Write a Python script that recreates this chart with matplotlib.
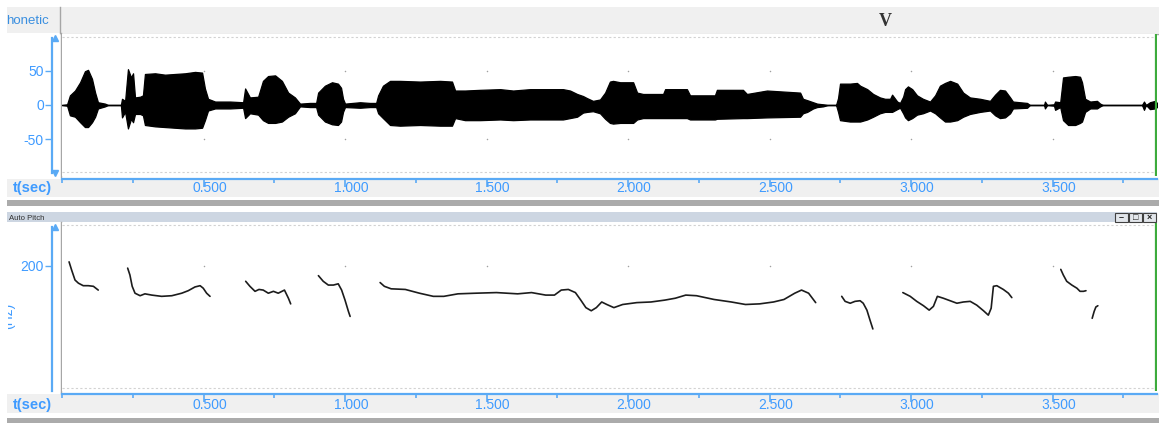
import numpy as np
import matplotlib
matplotlib.use("Agg")
import matplotlib.pyplot as plt
from matplotlib import transforms
from matplotlib.lines import Line2D
from matplotlib.patches import Rectangle

plt.rcParams["font.family"] = ["Liberation Sans", "DejaVu Sans"]
plt.rcParams["axes.unicode_minus"] = False

# ---- waveform envelope (seconds, upper / lower amplitude) ----
WAVE_T = [0.000, 0.018, 0.028, 0.046, 0.064, 0.081, 0.092, 0.106, 0.117, 0.127,
          0.152, 0.163, 0.208, 0.212, 0.223, 0.233, 0.244, 0.251, 0.258, 0.276,
          0.286, 0.293, 0.329, 0.364, 0.399, 0.435, 0.470, 0.495, 0.505, 0.516,
          0.541, 0.594, 0.640, 0.647, 0.664, 0.693, 0.710, 0.728, 0.753, 0.777,
          0.799, 0.823, 0.841, 0.876, 0.898, 0.905, 0.929, 0.954, 0.975, 0.986,
          0.993, 1.000, 1.053, 1.088, 1.110, 1.117, 1.134, 1.159, 1.194, 1.265,
          1.336, 1.378, 1.389, 1.424, 1.477, 1.548, 1.594, 1.654, 1.714, 1.770,
          1.795, 1.820, 1.841, 1.855, 1.876, 1.901, 1.919, 1.936, 1.947, 1.972,
          2.018, 2.032, 2.053, 2.124, 2.131, 2.208, 2.219, 2.307, 2.314, 2.406,
          2.420, 2.491, 2.608, 2.618, 2.633, 2.654, 2.668, 2.689, 2.707, 2.735,
          2.742, 2.749, 2.784, 2.809, 2.820, 2.845, 2.866, 2.890, 2.908, 2.926,
          2.933, 2.951, 2.961, 2.972, 2.979, 2.989, 3.004, 3.021, 3.042, 3.067,
          3.085, 3.102, 3.120, 3.138, 3.163, 3.184, 3.208, 3.244, 3.279, 3.297,
          3.314, 3.332, 3.350, 3.360, 3.410, 3.420, 3.470, 3.473, 3.481, 3.505,
          3.509, 3.527, 3.537, 3.555, 3.580, 3.597, 3.604, 3.615, 3.633, 3.657,
          3.668, 3.678, 3.816, 3.823, 3.830, 3.844, 3.862, 3.869]
WAVE_UP = [0, 1, 14, 21, 33, 49, 51, 38, 18, 4,
           2, 0, 0, 9, 6, 52, 40, 46, 11, 12,
           14, 45, 46, 44, 45, 46, 48, 47, 24, 9,
           5, 5, 4, 24, 11, 12, 35, 42, 43, 35,
           18, 11, 2, 3, 3, 18, 28, 33, 31, 25,
           9, 2, 4, 3, 3, 14, 28, 35, 35, 34,
           35, 34, 21, 21, 22, 23, 21, 23, 23, 23,
           21, 16, 13, 10, 6, 8, 18, 34, 35, 33,
           33, 18, 16, 16, 23, 23, 14, 14, 22, 22,
           16, 21, 18, 9, 7, 4, 2, 1, 0, 0,
           10, 31, 31, 32, 28, 23, 16, 11, 9, 9,
           15, 5, 3, 12, 23, 27, 23, 14, 9, 5,
           14, 28, 32, 35, 31, 18, 11, 9, 6, 15,
           22, 21, 11, 5, 3, 0, 0, 5, 0, 1,
           5, 4, 40, 41, 42, 41, 33, 9, 5, 6,
           2, 0, 0, 5, 0, 4, 6, 3]
WAVE_LO = [0, -1, -15, -17, -25, -32, -32, -25, -17, -5,
           -2, 0, 0, -18, -10, -34, -20, -25, -13, -13,
           -15, -29, -31, -32, -33, -34, -34, -33, -22, -8,
           -5, -5, -4, -19, -12, -14, -22, -26, -26, -24,
           -17, -12, -2, -3, -3, -14, -24, -28, -29, -24,
           -10, -3, -4, -3, -3, -12, -19, -29, -30, -29,
           -30, -30, -19, -22, -22, -21, -22, -21, -21, -21,
           -19, -17, -11, -10, -9, -12, -20, -26, -27, -26,
           -26, -21, -19, -19, -19, -19, -21, -21, -20, -19,
           -19, -18, -17, -12, -10, -5, -3, -2, 0, 0,
           -10, -22, -24, -24, -24, -21, -17, -12, -10, -10,
           -10, -6, -4, -12, -18, -22, -19, -14, -12, -8,
           -12, -18, -24, -24, -22, -17, -13, -10, -8, -15,
           -19, -18, -12, -5, -4, 0, 0, -5, 0, -1,
           -7, -3, -22, -29, -29, -26, -24, -10, -5, -5,
           -2, 0, 0, -7, 0, -6, -5, -3]

# ---- auto pitch contours (seconds, Hz) ----
PITCH_T = [
    [0.025, 0.034, 0.046, 0.058, 0.075, 0.093, 0.111, 0.128],
    [0.232, 0.240, 0.248, 0.258, 0.276, 0.293, 0.317, 0.352, 0.388, 0.423,
     0.446, 0.470, 0.488, 0.499, 0.511, 0.523],
    [0.649, 0.664, 0.682, 0.696, 0.711, 0.729, 0.747, 0.764, 0.786, 0.800, 0.808],
    [0.906, 0.923, 0.941, 0.959, 0.976, 0.988, 1.000, 1.012, 1.018],
    [1.124, 1.139, 1.163, 1.213, 1.263, 1.312, 1.349, 1.399, 1.461, 1.535,
     1.610, 1.659, 1.709, 1.740, 1.764, 1.789, 1.814, 1.833, 1.851, 1.870,
     1.888, 1.907, 1.925, 1.950, 1.981, 2.031, 2.081, 2.130, 2.167, 2.204,
     2.242, 2.304, 2.365, 2.415, 2.465, 2.514, 2.551, 2.589, 2.613, 2.638, 2.663],
    [2.755, 2.767, 2.785, 2.802, 2.820, 2.831, 2.844, 2.855, 2.865],
    [2.971, 2.997, 3.020, 3.044, 3.064, 3.079, 3.093, 3.114, 3.138, 3.162,
     3.185, 3.209, 3.232, 3.256, 3.273, 3.283, 3.291, 3.303, 3.326, 3.344, 3.356],
    [3.529, 3.538, 3.550, 3.568, 3.586, 3.597, 3.609, 3.618],
    [3.640, 3.647, 3.653, 3.660],
]
PITCH_HZ = [
    [206, 193, 177, 172, 168, 168, 167, 161],
    [196, 185, 167, 156, 152, 155, 153, 151, 152, 156,
     160, 166, 168, 164, 156, 151],
    [175, 167, 159, 162, 161, 156, 159, 156, 161, 148, 139],
    [184, 175, 169, 169, 171, 161, 145, 127, 119],
    [173, 167, 163, 162, 156, 151, 151, 155, 156, 157,
     155, 157, 153, 153, 161, 162, 157, 145, 133, 128,
     133, 142, 138, 133, 138, 141, 142, 145, 148, 153,
     152, 146, 142, 138, 139, 142, 146, 156, 161, 156, 141],
    [151, 143, 140, 143, 144, 140, 129, 113, 99],
    [157, 151, 143, 136, 129, 135, 151, 148, 144, 140,
     142, 143, 137, 128, 121, 132, 167, 168, 162, 156, 149],
    [194, 185, 175, 169, 164, 159, 159, 160],
    [116, 127, 134, 136],
]

TIME_TICKS = [0.5, 1.0, 1.5, 2.0, 2.5, 3.0, 3.5]
TIME_MINOR = [0.0, 0.25, 0.75, 1.25, 1.75, 2.25, 2.75, 3.25, 3.75]
AMP_TICKS = [-50, 0, 50]
PITCH_TICKS = [200]
T_END = 3.869

BLUE = "#3f9bff"
AXIS_BLUE = "#5aaaf5"
PANEL_GRAY = "#f0f0f0"
EDGE_GRAY = "#a6a6a6"

W, H = 1159, 423
fig = plt.figure(figsize=(W / 100, H / 100), dpi=100, facecolor="white")


def box(x0, y0, x1, y1):
    return [x0 / W, 1 - y1 / H, (x1 - x0) / W, (y1 - y0) / H]


def band(x0, y0, x1, y1, color, z=-2, **kw):
    fig.add_artist(Rectangle((x0 / W, 1 - y1 / H), (x1 - x0) / W, (y1 - y0) / H,
                             transform=fig.transFigure, facecolor=color,
                             zorder=z, **kw))


def rule(xs, ys, color, lw=1.0, z=-1):
    fig.add_artist(Line2D([x / W for x in xs], [1 - y / H for y in ys],
                          transform=fig.transFigure, color=color, lw=lw, zorder=z))


def px_text(x, y, s, **kw):
    return fig.text(x / W, 1 - y / H, s, **kw)


def px_clip(x0, x1):
    return transforms.TransformedBbox(
        transforms.Bbox.from_extents(x0 / W, 0, x1 / W, 1), fig.transFigure)


# window chrome: header strip, label strips, splitter, pane title bar
band(7, 7, W, 33, PANEL_GRAY, edgecolor="none")
rule([59.5, 59.5], [7, 33], EDGE_GRAY)
rule([61, W], [33.5, 33.5], EDGE_GRAY)
band(7, 179, W, 197, PANEL_GRAY, edgecolor="none")
band(7, 200, W, 206, "#ababab", edgecolor="none")
band(7, 212, 1157, 222, "#cdd6e2", edgecolor="none")
band(7, 394, W, 413, PANEL_GRAY, edgecolor="none")
band(7, 418, W, H, "#ababab", edgecolor="none")
rule([61, 61], [33, 177], EDGE_GRAY)
rule([61, 61], [222, 393], EDGE_GRAY)

px_text(49, 24.5, "honetic", ha="right", va="baseline",
        fontsize=9.5, color="#3a8fe0")
px_text(885, 26, "V", ha="center", va="baseline", fontsize=13,
        family="Liberation Serif", weight="bold", color="#333333")
px_text(9, 219.5, "Auto Pitch", ha="left", va="baseline", fontsize=5.6,
        color="#303030")

for i, glyph in enumerate(["\u2013", "\u25a1", "\u00d7"]):
    x0 = 1115 + 14 * i
    band(x0, 213, x0 + 13, 221.5, "#e2e6eb", z=3, edgecolor="#404040", lw=0.8)
    px_text(x0 + 6.5, 217.5, glyph, ha="center", va="center", fontsize=6.5,
            weight="bold", color="#202020", zorder=4)


def style_time_axis(ax, label_drop):
    ax.set_xlim(0, T_END)
    for side in ("top", "right"):
        ax.spines[side].set_visible(False)
    ax.spines["bottom"].set_position(("outward", 2))
    ax.spines["bottom"].set_color(AXIS_BLUE)
    ax.spines["bottom"].set_linewidth(1.6)
    ax.spines["left"].set_position(("outward", 7))
    ax.spines["left"].set_color(AXIS_BLUE)
    ax.spines["left"].set_linewidth(1.6)
    ax.set_xticks(TIME_TICKS)
    ax.set_xticks(TIME_MINOR, minor=True)
    ax.tick_params(axis="x", which="major", length=6, width=1.2,
                   color=AXIS_BLUE, labelbottom=False)
    ax.tick_params(axis="x", which="minor", length=3, width=1.2,
                   color=AXIS_BLUE)
    ax.tick_params(axis="y", length=5, width=1, color=AXIS_BLUE,
                   labelcolor=BLUE, labelsize=10, pad=1)
    shift = ax.get_xaxis_transform() + transforms.ScaledTranslation(
        6 / 100, -label_drop / 100, fig.dpi_scale_trans)
    for t in TIME_TICKS:
        ax.text(t, 0, f"{t:.3f}", transform=shift, ha="center", va="baseline",
                fontsize=10, color=BLUE, clip_on=False)
    # playback cursor at the end of the selection
    ax.axvline(T_END - 0.004, color="#3cab3c", lw=1.6)


def spine_arrow(ax, y, marker):
    trans = ax.get_yaxis_transform() + transforms.ScaledTranslation(
        -7 / 100, 0, fig.dpi_scale_trans)
    ax.plot([0], [y], marker=marker, ms=4.5, color=AXIS_BLUE, transform=trans,
            clip_on=False)


# ---- waveform pane ----
ax1 = fig.add_axes(box(62, 34, 1157, 176))
ax1.set_ylim(-103, 103)
ax1.fill_between(WAVE_T, WAVE_LO, WAVE_UP, color="black", lw=0.9)
ax1.plot([0, T_END], [0, 0], color="black", lw=1.0)
for y in (98, -97):
    ax1.axhline(y, color="#d2d2d2", lw=0.8, ls=(0, (2, 2)))
gx, gy = np.meshgrid(TIME_TICKS, [AMP_TICKS[0], AMP_TICKS[-1]])
ax1.scatter(gx.ravel(), gy.ravel(), s=1.2, color="#a0a0a0", lw=0)
style_time_axis(ax1, 15.7)
ax1.spines["left"].set_bounds(-98, 97)
ax1.set_yticks(AMP_TICKS)
ax1.set_yticklabels([str(v) for v in AMP_TICKS])
spine_arrow(ax1, 97, "^")
spine_arrow(ax1, -98, "v")
px_text(13, 192, "t(sec)", ha="left", va="baseline", fontsize=10.5,
        weight="bold", color=BLUE)

# ---- auto pitch pane ----
ax2 = fig.add_axes(box(62, 223, 1157, 391))
ax2.set_ylim(0, 268)
for ts, hz in zip(PITCH_T, PITCH_HZ):
    ax2.plot(ts, hz, color="#1c1c1c", lw=1.2, solid_capstyle="round")
for y in (265, 5):
    ax2.axhline(y, color="#d2d2d2", lw=0.8, ls=(0, (2, 2)))
ax2.scatter(TIME_TICKS, [PITCH_TICKS[0]] * len(TIME_TICKS), s=1.2,
            color="#a0a0a0", lw=0)
style_time_axis(ax2, 18.3)
ax2.spines["left"].set_bounds(0, 262)
ax2.set_yticks(PITCH_TICKS)
spine_arrow(ax2, 262, "^")
px_text(13, 409, "t(sec)", ha="left", va="baseline", fontsize=10.5,
        weight="bold", color=BLUE)
unit = px_text(15, 316, "(Hz)", ha="right", va="center", rotation=90,
               fontsize=10, color=BLUE)
unit.set_clip_box(px_clip(8, 40))
unit.set_clip_on(True)

fig.savefig("out.png", dpi=100, facecolor="white")
